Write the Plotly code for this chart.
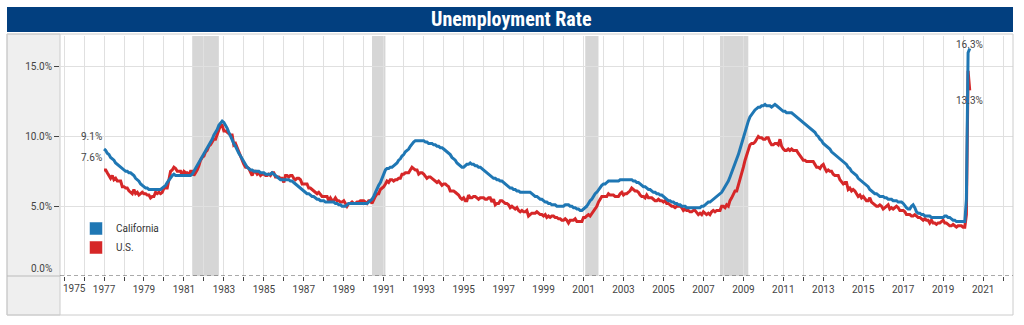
import pandas as pd
import plotly.graph_objects as go

# ---------------- data (monthly, Jan 1977 - May 2020) ----------------
start_month = "1977-01-01"
end_month = "2020-05-01"

ca_rate = [
    9.1, 9.0, 8.8, 8.7, 8.5, 8.4, 8.3, 8.1, 8.0, 7.9, 7.8, 7.7,   # 1977
    7.6, 7.5, 7.5, 7.4, 7.4, 7.3, 7.2, 7.0, 6.9, 6.8, 6.6, 6.5,   # 1978
    6.4, 6.3, 6.3, 6.2, 6.2, 6.2, 6.2, 6.2, 6.2, 6.2, 6.2, 6.3,   # 1979
    6.4, 6.5, 6.7, 6.9, 7.1, 7.2, 7.3, 7.2, 7.2, 7.2, 7.2, 7.2,   # 1980
    7.2, 7.2, 7.2, 7.2, 7.2, 7.3, 7.5, 7.8, 8.0, 8.2, 8.4, 8.6,   # 1981
    8.8, 9.0, 9.2, 9.4, 9.6, 9.8, 10.1, 10.3, 10.5, 10.8, 11.0, 11.1,  # 1982
    11.0, 10.8, 10.6, 10.3, 10.0, 9.8, 9.5, 9.3, 9.0, 8.8, 8.6, 8.4,  # 1983
    8.2, 8.0, 7.8, 7.7, 7.6, 7.6, 7.5, 7.5, 7.5, 7.5, 7.4, 7.4,   # 1984
    7.4, 7.3, 7.3, 7.3, 7.3, 7.4, 7.3, 7.2, 7.1, 7.0, 6.9, 6.9,   # 1985
    6.9, 6.9, 6.9, 6.9, 6.8, 6.8, 6.7, 6.6, 6.5, 6.4, 6.3, 6.2,   # 1986
    6.1, 6.0, 5.9, 5.9, 5.8, 5.7, 5.7, 5.6, 5.5, 5.5, 5.4, 5.4,   # 1987
    5.4, 5.3, 5.3, 5.3, 5.3, 5.3, 5.3, 5.2, 5.2, 5.1, 5.1, 5.0,   # 1988
    5.0, 5.0, 5.1, 5.2, 5.2, 5.2, 5.2, 5.2, 5.2, 5.2, 5.2, 5.2,   # 1989
    5.2, 5.2, 5.2, 5.3, 5.4, 5.5, 5.7, 6.0, 6.2, 6.5, 6.7, 7.0,   # 1990
    7.3, 7.6, 7.7, 7.7, 7.8, 7.8, 7.9, 8.0, 8.1, 8.3, 8.4, 8.6,   # 1991
    8.7, 8.9, 9.0, 9.1, 9.3, 9.5, 9.6, 9.7, 9.7, 9.7, 9.7, 9.7,   # 1992
    9.7, 9.6, 9.6, 9.5, 9.5, 9.5, 9.4, 9.4, 9.3, 9.3, 9.2, 9.2,   # 1993
    9.1, 9.0, 8.9, 8.8, 8.7, 8.5, 8.4, 8.3, 8.1, 8.0, 7.9, 7.8,   # 1994
    7.8, 7.9, 8.0, 8.0, 8.1, 8.0, 8.0, 7.9, 7.9, 7.8, 7.8, 7.7,   # 1995
    7.6, 7.5, 7.4, 7.3, 7.2, 7.1, 7.0, 7.0, 6.9, 6.9, 6.8, 6.8,   # 1996
    6.7, 6.6, 6.5, 6.4, 6.3, 6.3, 6.2, 6.2, 6.1, 6.1, 6.0, 6.0,   # 1997
    6.0, 6.0, 6.0, 6.0, 6.0, 5.9, 5.8, 5.7, 5.7, 5.6, 5.5, 5.5,   # 1998
    5.4, 5.3, 5.3, 5.2, 5.2, 5.1, 5.1, 5.1, 5.0, 5.0, 5.0, 5.0,   # 1999
    5.0, 5.1, 5.1, 5.1, 5.0, 5.0, 4.9, 4.9, 4.8, 4.8, 4.7, 4.7,   # 2000
    4.8, 4.9, 5.0, 5.2, 5.4, 5.5, 5.7, 5.9, 6.0, 6.2, 6.3, 6.5,   # 2001
    6.6, 6.6, 6.7, 6.8, 6.8, 6.8, 6.8, 6.8, 6.8, 6.8, 6.9, 6.9,   # 2002
    6.9, 6.9, 6.9, 6.9, 6.9, 6.9, 6.8, 6.8, 6.7, 6.7, 6.6, 6.5,   # 2003
    6.4, 6.4, 6.3, 6.2, 6.2, 6.1, 6.0, 6.0, 5.9, 5.9, 5.8, 5.8,   # 2004
    5.7, 5.6, 5.5, 5.4, 5.4, 5.3, 5.3, 5.2, 5.2, 5.1, 5.1, 5.0,   # 2005
    5.0, 5.0, 4.9, 4.9, 4.9, 4.9, 4.9, 4.9, 4.9, 4.9, 4.9, 5.0,   # 2006
    5.0, 5.1, 5.2, 5.3, 5.3, 5.4, 5.5, 5.6, 5.7, 5.8, 5.9, 6.0,   # 2007
    6.2, 6.4, 6.5, 6.8, 7.1, 7.4, 7.7, 8.0, 8.4, 8.7, 9.1, 9.5,   # 2008
    9.9, 10.4, 10.8, 11.1, 11.4, 11.6, 11.8, 11.9, 12.0, 12.1, 12.1, 12.2,  # 2009
    12.2, 12.3, 12.2, 12.2, 12.2, 12.1, 12.2, 12.3, 12.2, 12.1, 12.0, 11.9,  # 2010
    11.8, 11.8, 11.7, 11.7, 11.7, 11.7, 11.6, 11.5, 11.4, 11.3, 11.2, 11.1,  # 2011
    11.0, 10.9, 10.8, 10.7, 10.6, 10.5, 10.4, 10.3, 10.1, 10.0, 9.8, 9.7,    # 2012
    9.5, 9.4, 9.3, 9.2, 9.1, 8.9, 8.8, 8.7, 8.6, 8.5, 8.4, 8.3,   # 2013
    8.2, 8.1, 8.0, 7.8, 7.7, 7.5, 7.4, 7.3, 7.2, 7.0, 6.9, 6.8,   # 2014
    6.7, 6.6, 6.5, 6.4, 6.2, 6.1, 6.0, 5.9, 5.9, 5.8, 5.7, 5.7,   # 2015
    5.7, 5.6, 5.6, 5.5, 5.5, 5.5, 5.4, 5.4, 5.4, 5.3, 5.3, 5.3,   # 2016
    5.2, 5.0, 4.9, 4.8, 4.8, 5.0, 5.1, 4.9, 4.6, 4.5, 4.5, 4.4,   # 2017
    4.4, 4.3, 4.3, 4.3, 4.3, 4.2, 4.2, 4.2, 4.2, 4.2, 4.2, 4.2,   # 2018
    4.2, 4.3, 4.3, 4.2, 4.2, 4.1, 4.0, 4.0, 3.9, 3.9, 3.9, 3.9,   # 2019
    3.9, 3.9, 5.5, 16.0, 16.3,                                    # 2020
]

us_rate = [
    7.6, 7.6, 7.4, 7.2, 7.0, 7.2, 6.9, 7.0, 6.8, 6.8, 6.8, 6.4,   # 1977
    6.4, 6.3, 6.3, 6.1, 6.0, 5.9, 6.2, 5.9, 6.0, 5.8, 5.9, 6.0,   # 1978
    5.9, 5.9, 5.8, 5.8, 5.6, 5.7, 5.7, 6.0, 5.9, 6.0, 5.9, 6.0,   # 1979
    6.3, 6.3, 6.3, 6.9, 7.5, 7.6, 7.8, 7.7, 7.5, 7.5, 7.5, 7.2,   # 1980
    7.5, 7.4, 7.4, 7.2, 7.5, 7.5, 7.2, 7.4, 7.6, 7.9, 8.3, 8.5,   # 1981
    8.6, 8.9, 9.0, 9.3, 9.4, 9.6, 9.8, 9.8, 10.1, 10.4, 10.8, 10.8,  # 1982
    10.4, 10.4, 10.3, 10.2, 10.1, 10.1, 9.4, 9.5, 9.2, 8.8, 8.5, 8.3,  # 1983
    8.0, 7.8, 7.8, 7.7, 7.4, 7.2, 7.5, 7.5, 7.3, 7.4, 7.2, 7.3,   # 1984
    7.3, 7.2, 7.2, 7.3, 7.2, 7.4, 7.4, 7.1, 7.1, 7.1, 7.0, 7.0,   # 1985
    6.7, 7.2, 7.2, 7.1, 7.2, 7.2, 7.0, 6.9, 7.0, 7.0, 6.9, 6.6,   # 1986
    6.6, 6.6, 6.6, 6.3, 6.3, 6.2, 6.1, 6.0, 5.9, 6.0, 5.8, 5.7,   # 1987
    5.7, 5.7, 5.7, 5.4, 5.6, 5.4, 5.4, 5.6, 5.4, 5.4, 5.3, 5.3,   # 1988
    5.4, 5.2, 5.0, 5.2, 5.2, 5.3, 5.2, 5.2, 5.3, 5.3, 5.4, 5.4,   # 1989
    5.4, 5.3, 5.2, 5.4, 5.4, 5.2, 5.5, 5.7, 5.9, 5.9, 6.2, 6.3,   # 1990
    6.4, 6.6, 6.8, 6.7, 6.9, 6.9, 6.8, 6.9, 6.9, 7.0, 7.0, 7.3,   # 1991
    7.3, 7.4, 7.4, 7.4, 7.6, 7.8, 7.7, 7.6, 7.6, 7.3, 7.4, 7.4,   # 1992
    7.3, 7.1, 7.0, 7.1, 7.1, 7.0, 6.9, 6.8, 6.7, 6.8, 6.6, 6.5,   # 1993
    6.6, 6.6, 6.5, 6.4, 6.1, 6.1, 6.1, 6.0, 5.9, 5.8, 5.6, 5.5,   # 1994
    5.6, 5.4, 5.4, 5.8, 5.6, 5.6, 5.7, 5.7, 5.6, 5.5, 5.6, 5.6,   # 1995
    5.6, 5.5, 5.5, 5.6, 5.6, 5.3, 5.5, 5.1, 5.2, 5.2, 5.4, 5.4,   # 1996
    5.3, 5.2, 5.2, 5.1, 4.9, 5.0, 4.9, 4.8, 4.9, 4.7, 4.6, 4.7,   # 1997
    4.6, 4.6, 4.7, 4.3, 4.4, 4.5, 4.5, 4.5, 4.6, 4.5, 4.4, 4.4,   # 1998
    4.3, 4.4, 4.2, 4.3, 4.2, 4.3, 4.3, 4.2, 4.2, 4.1, 4.1, 4.0,   # 1999
    4.0, 4.1, 4.0, 3.8, 4.0, 4.0, 4.0, 4.1, 3.9, 3.9, 3.9, 3.9,   # 2000
    4.2, 4.2, 4.3, 4.4, 4.3, 4.5, 4.6, 4.9, 5.0, 5.3, 5.5, 5.7,   # 2001
    5.7, 5.7, 5.7, 5.9, 5.8, 5.8, 5.8, 5.7, 5.7, 5.7, 5.9, 6.0,   # 2002
    5.8, 5.9, 5.9, 6.0, 6.1, 6.3, 6.2, 6.1, 6.1, 6.0, 5.8, 5.7,   # 2003
    5.7, 5.6, 5.8, 5.6, 5.6, 5.6, 5.5, 5.4, 5.4, 5.5, 5.4, 5.4,   # 2004
    5.3, 5.4, 5.2, 5.2, 5.1, 5.0, 5.0, 4.9, 5.0, 5.0, 5.0, 4.9,   # 2005
    4.7, 4.8, 4.7, 4.7, 4.6, 4.6, 4.7, 4.7, 4.5, 4.4, 4.5, 4.4,   # 2006
    4.6, 4.5, 4.4, 4.5, 4.4, 4.6, 4.7, 4.6, 4.7, 4.7, 4.7, 5.0,   # 2007
    5.0, 4.9, 5.1, 5.0, 5.4, 5.6, 5.8, 6.1, 6.1, 6.5, 6.8, 7.3,   # 2008
    7.8, 8.3, 8.7, 9.0, 9.4, 9.5, 9.5, 9.6, 9.8, 10.0, 9.9, 9.9,  # 2009
    9.8, 9.8, 9.9, 9.9, 9.6, 9.4, 9.4, 9.5, 9.5, 9.4, 9.8, 9.3,   # 2010
    9.1, 9.0, 9.0, 9.1, 9.0, 9.1, 9.0, 9.0, 9.0, 8.8, 8.6, 8.5,   # 2011
    8.3, 8.3, 8.2, 8.2, 8.2, 8.2, 8.2, 8.0, 7.8, 7.8, 7.7, 7.9,   # 2012
    8.0, 7.7, 7.5, 7.6, 7.5, 7.5, 7.3, 7.2, 7.2, 7.2, 6.9, 6.7,   # 2013
    6.6, 6.7, 6.7, 6.2, 6.3, 6.1, 6.2, 6.1, 5.9, 5.7, 5.8, 5.6,   # 2014
    5.7, 5.5, 5.4, 5.4, 5.6, 5.3, 5.2, 5.1, 5.0, 5.0, 5.1, 5.0,   # 2015
    4.8, 4.9, 5.0, 5.1, 4.8, 4.9, 4.8, 4.9, 5.0, 4.9, 4.7, 4.7,   # 2016
    4.7, 4.6, 4.4, 4.4, 4.4, 4.3, 4.3, 4.4, 4.3, 4.2, 4.2, 4.1,   # 2017
    4.0, 4.1, 4.0, 4.0, 3.8, 4.0, 3.8, 3.8, 3.7, 3.8, 3.8, 3.9,   # 2018
    4.0, 3.8, 3.8, 3.7, 3.6, 3.6, 3.7, 3.6, 3.5, 3.6, 3.6, 3.6,   # 2019
    3.5, 3.5, 4.4, 14.7, 13.3,                                    # 2020
]

series_names = ["California", "U.S."]
series_colors = ["#1f77b4", "#d62728"]

recession_start = ["1981-06-01", "1990-06-01", "2001-02-01", "2007-11-01"]
recession_end = ["1982-10-01", "1991-02-01", "2001-10-01", "2009-04-01"]

y_tick_vals = [5, 10, 15]
y_tick_text = ["5.0%", "10.0%", "15.0%"]
x_tick_vals = [f"{y}-01-01" for y in range(1977, 2022, 2)]
x_tick_text = [str(y) for y in range(1977, 2022, 2)]
first_x_label = "1975"

title_text = "Unemployment Rate"

dates = pd.date_range(start_month, end_month, freq="MS")

# ---------------- figure ----------------
FONT = "Roboto, 'Noto Sans', sans-serif"
TXT = "#444444"

fig = go.Figure()
# U.S. drawn first so California sits on top
for name, vals, col in reversed(list(zip(series_names, [ca_rate, us_rate], series_colors))):
    fig.add_trace(go.Scatter(x=dates, y=vals, mode="lines", name=name,
                             line=dict(color=col, width=3),
                             showlegend=False, hoverinfo="skip"))
# legend swatches
for name, col in zip(series_names, series_colors):
    fig.add_trace(go.Scatter(x=[None], y=[None], mode="markers", name=name,
                             marker=dict(symbol="square", size=13, color=col,
                                         line=dict(color="rgba(255,255,255,0.5)", width=1)),
                             showlegend=True))

# plot-area pixel geometry (for paper coordinates of the decoration)
L, R, T, B = 60, 1013, 36, 276
W, H = R - L, B - T
def px(xp):
    return (xp - L) / W
def py(yp):
    return (B - yp) / H

shapes = []
shapes.append(dict(type="rect", xref="paper", yref="paper", x0=px(7), x1=px(60),
                   y0=py(315), y1=py(34), fillcolor="#efefef",
                   line=dict(color="#cccccc", width=1), layer="below"))
shapes.append(dict(type="rect", xref="paper", yref="paper", x0=px(7), x1=px(1013),
                   y0=py(315), y1=py(34), fillcolor="rgba(0,0,0,0)",
                   line=dict(color="#cccccc", width=1), layer="above"))
shapes.append(dict(type="line", xref="paper", yref="paper", x0=px(7), x1=px(60),
                   y0=0, y1=0, line=dict(color="#bbbbbb", width=1)))
shapes.append(dict(type="rect", xref="paper", yref="paper", x0=px(7), x1=px(1013),
                   y0=py(32), y1=py(7), fillcolor="#023f7f", line=dict(width=0)))
for s, e in zip(recession_start, recession_end):
    shapes.append(dict(type="rect", xref="x", yref="paper", x0=s, x1=e, y0=0, y1=1,
                       fillcolor="#d6d6d6", line=dict(width=0), layer="between"))
shapes.append(dict(type="line", xref="paper", yref="y", x0=0, x1=1, y0=0, y1=0,
                   line=dict(color="#555555", width=1, dash="4px,3px")))

annotations = [
    dict(text=f"<b>{title_text}</b>", xref="paper", yref="paper",
         x=px(511), y=py(19.5), xanchor="center", yanchor="middle", showarrow=False,
         font=dict(family="'Liberation Sans Narrow', 'Roboto Condensed', Roboto", size=20,
                   color="white")),
    dict(text="0.0%", xref="paper", yref="y", x=0, y=0, xanchor="right", yanchor="bottom",
         xshift=-6, yshift=0, showarrow=False, font=dict(family=FONT, size=10, color=TXT)),
    dict(text=first_x_label, xref="x", yref="paper", x="1975-01-01", y=0, xanchor="left",
         yanchor="top", xshift=-3, yshift=-5, showarrow=False,
         font=dict(family=FONT, size=10, color=TXT)),
]
for vals in (ca_rate, us_rate):
    annotations.append(dict(text=f"{vals[0]:.1f}%", x=dates[0], y=vals[0], xref="x", yref="y",
                            xanchor="right", yanchor="bottom", yshift=5, showarrow=False,
                            font=dict(family=FONT, size=10, color=TXT)))
annotations.append(dict(text=f"{ca_rate[-1]:.1f}%", x=dates[-1], y=ca_rate[-1], xref="x", yref="y",
                        xanchor="center", yanchor="bottom", yshift=-3, showarrow=False,
                        font=dict(family=FONT, size=10, color=TXT)))
annotations.append(dict(text=f"{us_rate[-1]:.1f}%", x=dates[-1], y=us_rate[-1], xref="x", yref="y",
                        xanchor="center", yanchor="top", yshift=-3, showarrow=False,
                        font=dict(family=FONT, size=10, color=TXT)))

fig.update_layout(
    width=1024, height=325,
    margin=dict(l=L, r=1024 - R, t=T, b=325 - B, pad=0),
    paper_bgcolor="white", plot_bgcolor="white",
    font=dict(family=FONT, size=10, color=TXT),
    shapes=shapes, annotations=annotations,
    legend=dict(x=px(76), y=py(214), xanchor="left", yanchor="top",
                bgcolor="rgba(0,0,0,0)", font=dict(family=FONT, size=10, color="#333333"),
                tracegroupgap=0, itemwidth=30),
    xaxis=dict(type="date", range=["1974-10-19", "2022-07-01"],
               tickmode="array", tickvals=x_tick_vals, ticktext=x_tick_text,
               ticks="outside", ticklen=4, tickcolor="#444444", tickwidth=1,
               showgrid=True, gridcolor="#e0e0e0", gridwidth=1,
               minor=dict(tickmode="linear", tick0="1975-01-01", dtick="M12",
                          ticks="outside", ticklen=4, tickcolor="#444444",
                          showgrid=True, gridcolor="#e0e0e0", gridwidth=1),
               showline=False, zeroline=False,
               tickfont=dict(family=FONT, size=10, color=TXT)),
    yaxis=dict(range=[0, 17.2], tickmode="array", tickvals=y_tick_vals, ticktext=y_tick_text,
               ticks="outside", ticklen=5, tickcolor="#444444",
               showgrid=True, gridcolor="#e0e0e0", gridwidth=1,
               showline=False, zeroline=False,
               tickfont=dict(family=FONT, size=10, color=TXT)),
)

fig.write_html("out.html")
